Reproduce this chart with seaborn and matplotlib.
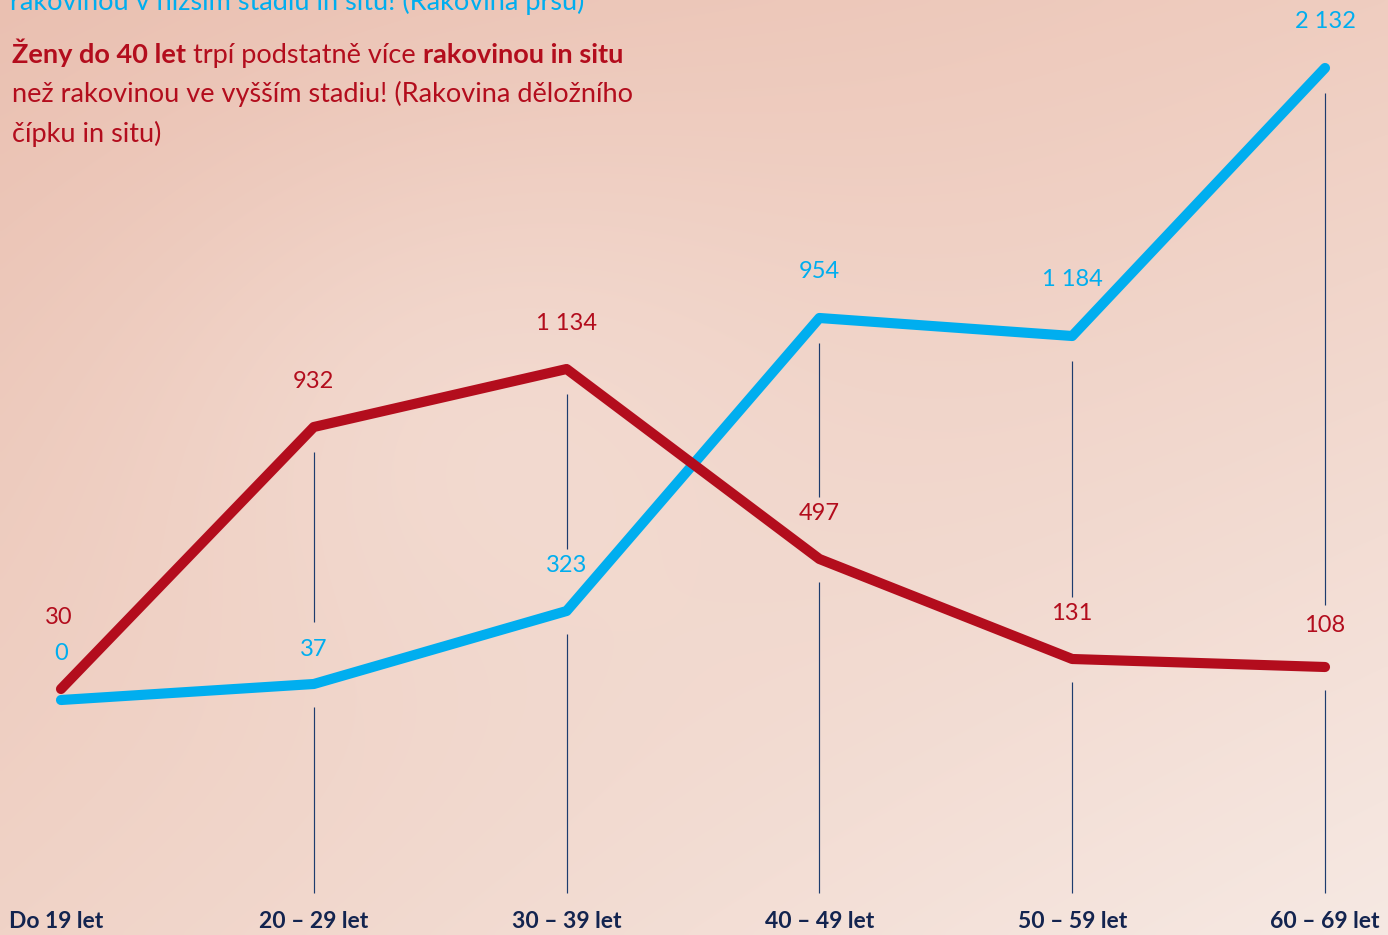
import numpy as np
import pandas as pd
import matplotlib
matplotlib.use("Agg")
import matplotlib.pyplot as plt
import seaborn as sns

# ---------------- data ----------------
age_groups = ["Do 19 let", "20 – 29 let", "30 – 39 let", "40 – 49 let", "50 – 59 let", "60 – 69 let"]
# values printed on the chart
blue_values = [0, 37, 323, 954, 1184, 2132]      # rakovina prsu in situ
red_values = [30, 932, 1134, 497, 131, 108]      # rakovina děložního čípku in situ
# the infographic is not drawn to scale: visual heights
blue_level = [235, 251, 324, 617, 599, 867]
red_level = [246, 508, 566, 376, 276, 268]

intro_blue = "rakovinou v nižším stadiu in situ! (Rakovina prsu)"
intro_red_1 = [("Ženy do 40 let", "bold"), (" trpí podstatně více ", "normal"), ("rakovinou in situ", "bold")]
intro_red_2 = "než rakovinou ve vyšším stadiu! (Rakovina děložního"
intro_red_3 = "čípku in situ)"

BLUE = "#00aeef"
RED = "#b30d1d"
NAVY = "#13244f"
VLINE = "#1d3c6e"

sns.set_theme(style="white")
plt.rcParams["font.family"] = ["Lato", "DejaVu Sans"]

W, H = 1388, 935
fig = plt.figure(figsize=(W / 100, H / 100), dpi=100)

# ---------------- background ----------------
bg = fig.add_axes([0, 0, 1, 1], zorder=0)
yy, xx = np.mgrid[0:1:200j, 0:1:300j]  # yy=0 top
c_tl = np.array([234, 192, 177]) / 255
c_tr = np.array([239, 205, 192]) / 255
c_bl = np.array([240, 211, 199]) / 255
c_br = np.array([246, 233, 227]) / 255
img = (c_tl[None, None] * ((1 - xx) * (1 - yy))[..., None]
       + c_tr[None, None] * (xx * (1 - yy))[..., None]
       + c_bl[None, None] * ((1 - xx) * yy)[..., None]
       + c_br[None, None] * (xx * yy)[..., None])
blob = np.exp(-(((xx - 0.35) / 0.25) ** 2 + ((yy - 0.45) / 0.3) ** 2))
img = img + (np.array([247, 230, 222]) / 255 - img) * (0.45 * blob)[..., None]
bg.imshow(img, aspect="auto", extent=[0, 1, 0, 1], interpolation="bicubic")
bg.set_axis_off()

# ---------------- main chart ----------------
ax = fig.add_axes([0, 0, 1, 1], zorder=1)
ax.patch.set_alpha(0)
x = np.arange(len(age_groups))
df = pd.DataFrame({
    "x": np.concatenate([x, x]),
    "level": blue_level + red_level,
    "serie": ["blue"] * len(x) + ["red"] * len(x),
})
sns.lineplot(data=df, x="x", y="level", hue="serie", palette={"blue": BLUE, "red": RED},
             linewidth=7.3, legend=False, ax=ax, sort=False)
for ln in ax.get_lines():
    ln.set_solid_capstyle("round")
    ln.set_solid_joinstyle("round")

spacing = 252.8
ax.set_xlim(-61 / spacing, 5 + (W - 1325) / spacing)
ax.set_ylim(0, H)
ax.set_axis_off()

# vertical guide lines with gaps around the lines and labels
base = 42
for i in range(1, len(x)):
    up = max(blue_level[i], red_level[i])
    lo = min(blue_level[i], red_level[i])
    ax.vlines(i, lo + 62, up - 25, color=VLINE, lw=0.85, zorder=0.5)
    ax.vlines(i, base, lo - 23, color=VLINE, lw=0.85, zorder=0.5)

def fmt(v):
    return f"{v:,}".replace(",", " ")

fs_val = 17
blue_dy = {1: 34, 4: 56}
red_dy = {0: 71, 5: 42}
for i in range(len(x)):
    ax.text(i, blue_level[i] + blue_dy.get(i, 46), fmt(blue_values[i]), color=BLUE,
            fontsize=fs_val, ha="center", va="center", zorder=3)
    ax.text(i - (0.01 if i == 0 else 0), red_level[i] + red_dy.get(i, 46), fmt(red_values[i]),
            color=RED, fontsize=fs_val, ha="center", va="center", zorder=3)

# category labels
for i, lab in enumerate(age_groups):
    ax.text(i - (0.018 if i == 0 else 0), 13, lab, color=NAVY, fontsize=16.5,
            fontweight="bold", ha="center", va="center")

# ---------------- intro text ----------------
fs_t = 19.5
fig.text(10 / W, 1 - 10 / H, intro_blue, color=BLUE, fontsize=fs_t, ha="left", va="baseline")
fig.canvas.draw()
renderer = fig.canvas.get_renderer()
xpos = 12 / W
for txt, wgt in intro_red_1:
    t = fig.text(xpos, 1 - 63 / H, txt, color=RED, fontsize=fs_t, fontweight=wgt,
                 ha="left", va="baseline")
    bb = t.get_window_extent(renderer=renderer)
    xpos += bb.width / W
fig.text(12 / W, 1 - 102 / H, intro_red_2, color=RED, fontsize=fs_t, ha="left", va="baseline")
fig.text(12 / W, 1 - 142 / H, intro_red_3, color=RED, fontsize=fs_t, ha="left", va="baseline")

fig.savefig("out.png", dpi=100)
